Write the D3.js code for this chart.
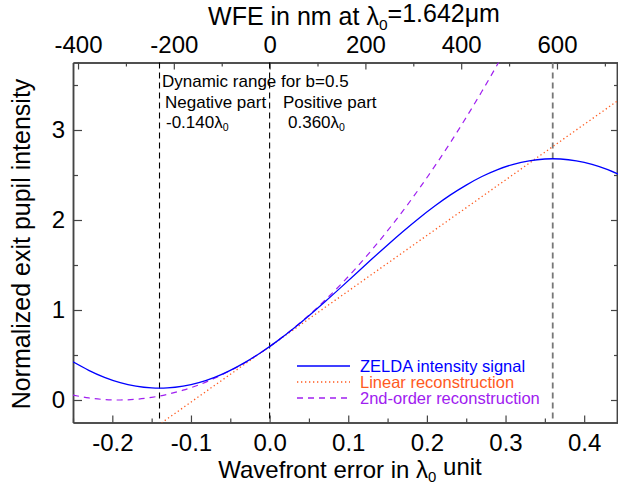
<!DOCTYPE html>
<html>
<head>
<meta charset="utf-8">
<script src="https://cdn.jsdelivr.net/npm/d3@7"></script>
<style>
  body { margin: 0; background: #fff; }
  text { font-family: "Liberation Sans", Arial, Helvetica, sans-serif; }
</style>
</head>
<body>
<div id="chart"></div>
<script>
// wavefront error grid (lambda0 units) and the ZELDA intensity
const waveX = [-0.25, -0.23, -0.21, -0.19, -0.17, -0.15, -0.13, -0.11, -0.09, -0.07, -0.05, -0.03, -0.01,
  0.01, 0.03, 0.05, 0.07, 0.09, 0.11, 0.13, 0.15, 0.17, 0.19, 0.21, 0.23, 0.25, 0.27, 0.29, 0.31,
  0.33, 0.35, 0.37, 0.39, 0.41, 0.43, 0.45];
const zeldaI = [0.424, 0.330, 0.252, 0.193, 0.154, 0.134, 0.134, 0.154, 0.193, 0.252, 0.330, 0.424, 0.533,
  0.657, 0.792, 0.937, 1.089, 1.246, 1.406, 1.566, 1.723, 1.875, 2.020, 2.155, 2.279, 2.388, 2.483, 2.560, 2.619,
  2.658, 2.678, 2.678, 2.658, 2.619, 2.560, 2.483];

// 2nd-order reconstruction
const quadX = [-0.25, -0.23, -0.21, -0.19, -0.17, -0.15, -0.13, -0.11, -0.09, -0.07, -0.05, -0.03, -0.01,
  0.01, 0.03, 0.05, 0.07, 0.09, 0.11, 0.13, 0.15, 0.17, 0.19, 0.21, 0.23, 0.25, 0.27, 0.29, 0.31];
const quadI = [0.054, 0.023, 0.005, 0.000, 0.008, 0.029, 0.063, 0.109, 0.168, 0.241, 0.326, 0.423, 0.534,
  0.657, 0.794, 0.943, 1.105, 1.279, 1.467, 1.668, 1.881, 2.107, 2.346, 2.598, 2.862, 3.140, 3.430, 3.733, 4.049];

// linear reconstruction
const linX = [-0.15, 0.45];
const linI = [-0.332, 3.371];

// dynamic range limits for b=0.5
const rangeMarks = [-0.14, 0.0, 0.36];

const xTicks = [-0.2, -0.1, 0.0, 0.1, 0.2, 0.3, 0.4];
const xMinor = [-0.25, -0.15, -0.05, 0.05, 0.15, 0.25, 0.35];
const yTicks = [0, 1, 2, 3];
const yMinor = [0.5, 1.5, 2.5, 3.5];
const nmTicks = [-400, -200, 0, 200, 400, 600];
const nmMinor = [-300, -100, 100, 300, 500, 700];
const lambda0 = 1642; // nm

const W = 618, H = 489;
const margin = { left: 73, right: 618, top: 62.5, bottom: 422.5 };

const svg = d3.select("#chart").append("svg")
  .attr("width", W).attr("height", H);

const x = d3.scaleLinear().domain([-0.25, 0.443]).range([margin.left, margin.right]);
const xNm = d3.scaleLinear().domain([-0.25 * lambda0, 0.443 * lambda0]).range([margin.left, margin.right]);
const y = d3.scaleLinear().domain([-0.25, 3.75]).range([margin.bottom, margin.top]);

const fmt = d => d3.format(".1f")(d).replace("−", "-");
const fmtNm = d => String(d);

svg.append("defs").append("clipPath").attr("id", "plot")
  .append("rect").attr("x", margin.left).attr("y", margin.top)
  .attr("width", margin.right - margin.left).attr("height", margin.bottom - margin.top);

const axisColor = "#444";

function style(g, size) {
  g.select(".domain").attr("stroke", axisColor).attr("stroke-width", 1.5);
  g.selectAll(".tick line").attr("stroke", axisColor).attr("stroke-width", 1.2);
  g.selectAll(".tick text").attr("font-size", size).attr("fill", "#000")
    .attr("font-family", "Liberation Sans, Arial, sans-serif");
}

// bottom axis
svg.append("g").attr("transform", `translate(0,${margin.bottom})`)
  .call(d3.axisBottom(x).tickValues(xMinor).tickSize(-4).tickSizeOuter(0).tickFormat(""))
  .call(g => style(g, 24));
svg.append("g").attr("transform", `translate(0,${margin.bottom})`)
  .call(d3.axisBottom(x).tickValues(xTicks).tickSize(-7).tickSizeOuter(0).tickPadding(11).tickFormat(fmt))
  .call(g => style(g, 24));

// top axis in nm
svg.append("g").attr("transform", `translate(0,${margin.top})`)
  .call(d3.axisTop(xNm).tickValues(nmMinor).tickSize(-4).tickSizeOuter(0).tickFormat(""))
  .call(g => style(g, 24));
svg.append("g").attr("transform", `translate(0,${margin.top})`)
  .call(d3.axisTop(xNm).tickValues(nmTicks).tickSize(-7).tickSizeOuter(0).tickPadding(10).tickFormat(fmtNm))
  .call(g => style(g, 24));

// left axis
svg.append("g").attr("transform", `translate(${margin.left},0)`)
  .call(d3.axisLeft(y).tickValues(yMinor).tickSize(-5).tickSizeOuter(0).tickFormat(""))
  .call(g => style(g, 24));
svg.append("g").attr("transform", `translate(${margin.left},0)`)
  .call(d3.axisLeft(y).tickValues(yTicks).tickSize(-9).tickSizeOuter(0).tickPadding(8).tickFormat(d3.format("d")))
  .call(g => style(g, 24));

// right axis, ticks only
svg.append("g").attr("transform", `translate(${margin.right - 1},0)`)
  .call(d3.axisRight(y).tickValues(yMinor).tickSize(-3).tickSizeOuter(0).tickFormat(""))
  .call(g => style(g, 24));
svg.append("g").attr("transform", `translate(${margin.right - 1},0)`)
  .call(d3.axisRight(y).tickValues(yTicks).tickSize(-6).tickSizeOuter(0).tickFormat(""))
  .call(g => style(g, 24));

// dynamic range marks
svg.append("g").selectAll("line").data(rangeMarks).join("line")
  .attr("x1", d => x(d)).attr("x2", d => x(d))
  .attr("y1", margin.top).attr("y2", margin.bottom)
  .attr("stroke", (d, i) => i === 2 ? "#777" : "#000")
  .attr("stroke-width", (d, i) => i === 2 ? 1.8 : 1.1)
  .attr("stroke-dasharray", "6,4");

const plot = svg.append("g").attr("clip-path", "url(#plot)");
const line = d3.line().x(d => x(d[0])).y(d => y(d[1]));

plot.append("path").datum(linX.map((v, i) => [v, linI[i]]))
  .attr("fill", "none").attr("stroke", "#ff5a1e").attr("stroke-width", 1.3)
  .attr("stroke-dasharray", "1.3,2.7").attr("d", line);

plot.append("path").datum(quadX.map((v, i) => [v, quadI[i]]))
  .attr("fill", "none").attr("stroke", "#a020f0").attr("stroke-width", 1.2)
  .attr("stroke-dasharray", "6,5").attr("d", line.curve(d3.curveNatural));

plot.append("path").datum(waveX.map((v, i) => [v, zeldaI[i]]))
  .attr("fill", "none").attr("stroke", "#0000ff").attr("stroke-width", 1.3)
  .attr("d", d3.line().x(d => x(d[0])).y(d => y(d[1])).curve(d3.curveNatural));

// helper: text with lambda_0 subscript
function lam(t, pre, post) {
  t.append("tspan").text(pre + "λ");
  t.append("tspan").text("0").attr("font-size", "0.62em").attr("dy", "0.3em");
  t.append("tspan").text(post).attr("dy", "-0.3em");
}

// titles
lam(svg.append("text").attr("x", 354).attr("y", 25).attr("text-anchor", "middle")
  .attr("font-size", 25), "WFE in nm at ", "=1.642μm");
lam(svg.append("text").attr("x", 350).attr("y", 478).attr("text-anchor", "middle")
  .attr("font-size", 24), "Wavefront error in ", " unit");
svg.append("text").attr("transform", "translate(30,244) rotate(-90)")
  .attr("text-anchor", "middle").attr("font-size", 25)
  .text("Normalized exit pupil intensity");

// dynamic range notes
const note = svg.append("g").attr("font-size", 17);
note.append("text").attr("x", 162).attr("y", 87).text("Dynamic range for b=0.5");
note.append("text").attr("x", 165).attr("y", 108).text("Negative part");
note.append("text").attr("x", 283).attr("y", 108).text("Positive part");
lam(note.append("text").attr("x", 166).attr("y", 128), "-0.140", "");
lam(note.append("text").attr("x", 288).attr("y", 128), "0.360", "");

// legend
const legendNames = ["ZELDA intensity signal", "Linear reconstruction", "2nd-order reconstruction"];
const legendColors = ["#0000ff", "#ff5a1e", "#a020f0"];
const legendDash = [null, "1.3,2.7", "6,5"];
const lg = svg.append("g");
legendNames.forEach((n, i) => {
  const ly = 366 + i * 16;
  lg.append("line").attr("x1", 297).attr("x2", 350).attr("y1", ly).attr("y2", ly)
    .attr("stroke", legendColors[i]).attr("stroke-width", 1.4)
    .attr("stroke-dasharray", legendDash[i]);
  lg.append("text").attr("x", 360).attr("y", ly + 5.5).attr("font-size", 16.5)
    .attr("fill", legendColors[i]).text(n);
});
</script>
</body>
</html>
